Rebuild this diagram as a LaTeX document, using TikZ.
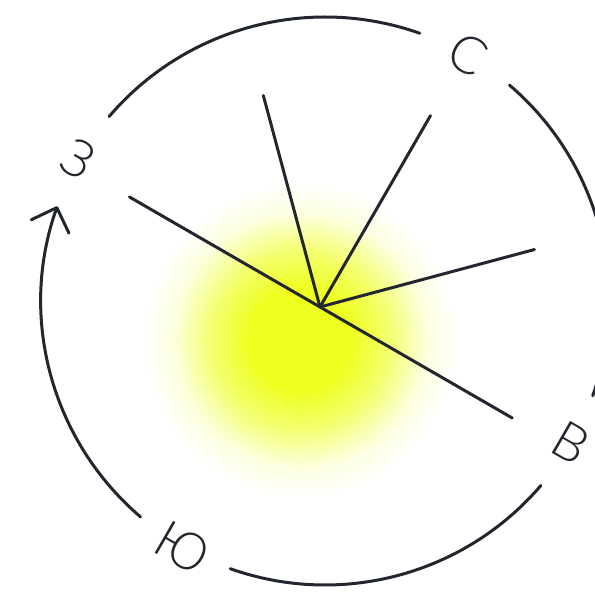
\documentclass[tikz,border=0pt]{standalone}
\usepackage{fontspec}
\setmainfont{Lato}[UprightFont=* Light]
\usetikzlibrary{calc,arrows.meta}
\definecolor{ink}{HTML}{22262E}
\definecolor{glowc}{HTML}{EDFF1F}
\pgfdeclareradialshading{glow}{\pgfpoint{0bp}{0bp}}{color(0bp)=(glowc); color(8bp)=(glowc); color(14bp)=(glowc!65!white); color(20bp)=(glowc!15!white); color(25bp)=(white); color(50bp)=(white)}

\begin{document}
\begin{tikzpicture}[
            x=1pt, y=1pt,
            ln/.style={draw=ink, line width=3pt, line cap=round},
            lbl/.style={text=ink, font=\fontsize{52}{52}\selectfont, rotate=-30, inner sep=0pt},
            tip/.style={-{Straight Barb[length=20pt, width=40pt, line cap=round, line join=round]}}
        ]
        \useasboundingbox (0,0) rectangle (595,592);

        % Glow
        \coordinate (G) at (300,252);
        \shade[shading=glow] (G) circle (158);

        % Centres
        \coordinate (K) at (325,291);
        \coordinate (O) at (320,285);

        % Compass letters
        \node[lbl] (N) at ($(K)+(60:285)$)   {С};
        \node[lbl] (E) at ($(K)+(-30:284)$)  {В};
        \node[lbl] (S) at ($(K)+(-120:285)$) {Ю};
        \node[lbl] (W) at ($(K)+(150:285)$)  {З};

        % Ring
        \draw[ln] ($(K)+(70.5:284)$) arc[start angle=70.5, end angle=139.5, radius=284];
        \draw[ln, tip] ($(K)+(229.5:284)$) arc[start angle=229.5, end angle=160.5, radius=284];
        \draw[ln] ($(K)+(250.5:284)$) arc[start angle=250.5, end angle=319.5, radius=284];
        \draw[ln] ($(K)+(340.5:284)$) arc[start angle=340.5, end angle=409.5, radius=284];

        % Rays
        \coordinate (RW) at ($(O)+(150:220)$);
        \coordinate (RE) at ($(O)+(-30:222)$);
        \coordinate (RA) at ($(O)+(105:219)$);
        \coordinate (RB) at ($(O)+(60:221)$);
        \coordinate (RC) at ($(O)+(15:222)$);
        \draw[ln] (RW) -- (RE);
        \draw[ln] (O) -- (RA);
        \draw[ln] (O) -- (RB);
        \draw[ln] (O) -- (RC);
    \end{tikzpicture}
\end{document}
